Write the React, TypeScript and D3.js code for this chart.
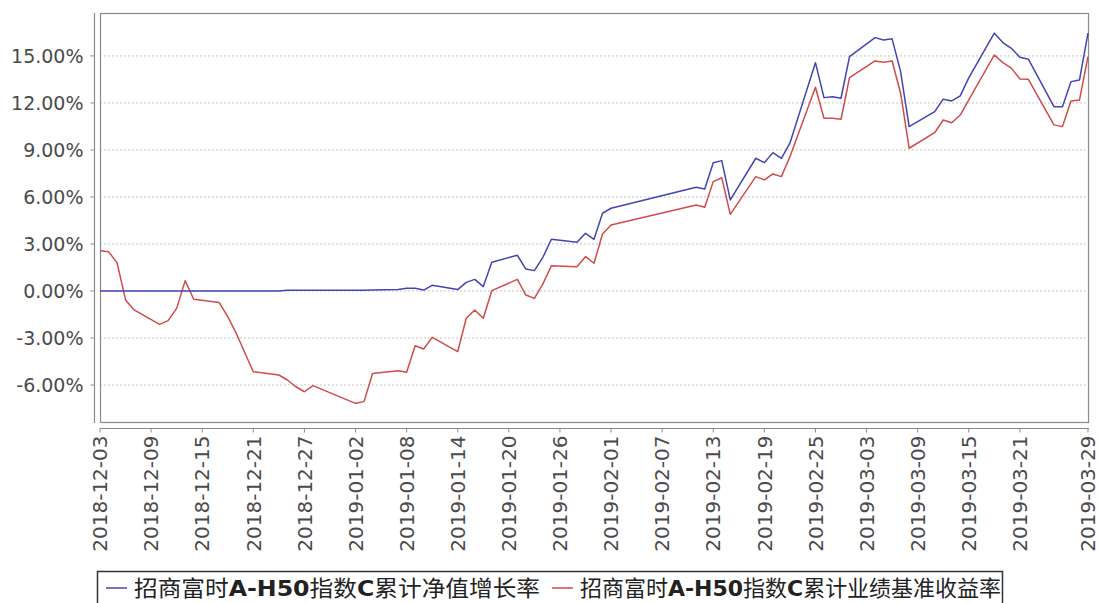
import { useEffect, useRef } from 'react';
import * as d3 from 'd3';

const dates = [
  '2018-12-03', '2018-12-04', '2018-12-05', '2018-12-06', '2018-12-07',
  '2018-12-10', '2018-12-11', '2018-12-12', '2018-12-13', '2018-12-14',
  '2018-12-17', '2018-12-18', '2018-12-19', '2018-12-20', '2018-12-21',
  '2018-12-24', '2018-12-25', '2018-12-26', '2018-12-27', '2018-12-28',
  '2019-01-02', '2019-01-03', '2019-01-04',
  '2019-01-07', '2019-01-08', '2019-01-09', '2019-01-10', '2019-01-11',
  '2019-01-14', '2019-01-15', '2019-01-16', '2019-01-17', '2019-01-18',
  '2019-01-21', '2019-01-22', '2019-01-23', '2019-01-24', '2019-01-25',
  '2019-01-28', '2019-01-29', '2019-01-30', '2019-01-31', '2019-02-01',
  '2019-02-11', '2019-02-12', '2019-02-13', '2019-02-14', '2019-02-15',
  '2019-02-18', '2019-02-19', '2019-02-20', '2019-02-21', '2019-02-22',
  '2019-02-25', '2019-02-26', '2019-02-27', '2019-02-28', '2019-03-01',
  '2019-03-04', '2019-03-05', '2019-03-06', '2019-03-07', '2019-03-08',
  '2019-03-11', '2019-03-12', '2019-03-13', '2019-03-14', '2019-03-15',
  '2019-03-18', '2019-03-19', '2019-03-20', '2019-03-21', '2019-03-22',
  '2019-03-25', '2019-03-26', '2019-03-27', '2019-03-28', '2019-03-29',
];

// 累计净值增长率 (%)
const navGrowth = [
  0.0, 0.0, 0.0, 0.0, 0.0,
  0.0, 0.0, 0.0, 0.0, 0.0,
  0.0, 0.0, 0.0, 0.0, 0.0,
  0.0, 0.05, 0.05, 0.05, 0.05,
  0.05, 0.05, 0.06,
  0.1, 0.17, 0.17, 0.06, 0.36,
  0.09, 0.55, 0.74, 0.28, 1.83,
  2.28, 1.4, 1.3, 2.15, 3.3,
  3.11, 3.68, 3.3, 4.96, 5.28,
  6.62, 6.51, 8.19, 8.32, 5.81,
  8.47, 8.19, 8.83, 8.47, 9.43,
  14.57, 12.34, 12.4, 12.3, 14.96,
  16.17, 16.02, 16.09, 14.0, 10.49,
  11.45, 12.24, 12.13, 12.45, 13.6,
  16.45, 15.85, 15.49, 14.92, 14.79,
  11.76, 11.76, 13.36, 13.47, 16.45,
];

// 累计业绩基准收益率 (%)
const benchmark = [
  2.57, 2.51, 1.81, -0.57, -1.21,
  -2.13, -1.89, -1.11, 0.66, -0.53,
  -0.74, -1.64, -2.7, -3.94, -5.15,
  -5.36, -5.68, -6.11, -6.43, -6.04,
  -7.17, -7.06, -5.26,
  -5.09, -5.19, -3.49, -3.7, -2.96,
  -3.87, -1.74, -1.21, -1.74, 0.02,
  0.74, -0.26, -0.47, 0.45, 1.61,
  1.55, 2.19, 1.77, 3.64, 4.21,
  5.49, 5.34, 6.98, 7.23, 4.89,
  7.3, 7.09, 7.47, 7.3, 8.57,
  13.0, 11.02, 11.02, 10.96, 13.62,
  14.68, 14.6, 14.68, 12.62, 9.11,
  10.1, 10.91, 10.74, 11.23, 12.2,
  15.06, 14.57, 14.22, 13.53, 13.51,
  10.6, 10.49, 12.13, 12.19, 14.96,
];

const xTicks = [
  '2018-12-03', '2018-12-09', '2018-12-15', '2018-12-21', '2018-12-27',
  '2019-01-02', '2019-01-08', '2019-01-14', '2019-01-20', '2019-01-26',
  '2019-02-01', '2019-02-07', '2019-02-13', '2019-02-19', '2019-02-25',
  '2019-03-03', '2019-03-09', '2019-03-15', '2019-03-21', '2019-03-29',
];

const yTicks = [-6, -3, 0, 3, 6, 9, 12, 15];

const seriesNames = ['招商富时A-H50指数C累计净值增长率', '招商富时A-H50指数C累计业绩基准收益率'];
const seriesColors = ['#4444b4', '#d24a4a'];

export default function App() {
  const svgRef = useRef<SVGSVGElement>(null);

  useEffect(() => {
    if (!svgRef.current) return;
    document.body.style.margin = '0';

    const W = 1101;
    const H = 603;
    const left = 100, right = 1088, top = 13, bottom = 422;

    const svg = d3.select(svgRef.current);
    svg.selectAll('*').remove();
    svg.attr('width', W).attr('height', H);

    const parse = d3.utcParse('%Y-%m-%d');
    const x = d3.scaleUtc()
      .domain([parse('2018-12-03') as Date, parse('2019-03-29') as Date])
      .range([left, right]);
    const y = d3.scaleLinear().domain([-8.36, 17.74]).range([bottom, top]);

    svg.append('rect').attr('width', W).attr('height', H).attr('fill', '#fff');

    // grid
    svg.append('g')
      .selectAll('line')
      .data(yTicks)
      .enter()
      .append('line')
      .attr('x1', left)
      .attr('x2', right)
      .attr('y1', d => y(d))
      .attr('y2', d => y(d))
      .attr('stroke', '#c4c4c4')
      .attr('stroke-width', 1)
      .attr('stroke-dasharray', '2 2');

    // plot border
    svg.append('rect')
      .attr('x', left + 0.5)
      .attr('y', top + 0.5)
      .attr('width', right - left)
      .attr('height', bottom - top)
      .attr('fill', 'none')
      .attr('stroke', '#8a8a8a')
      .attr('stroke-width', 1.2);

    // y axis
    const yAxis = svg.append('g').attr('transform', 'translate(94.5,0)');
    yAxis.append('line').attr('y1', top).attr('y2', bottom + 1).attr('stroke', '#8a8a8a').attr('stroke-width', 1.2);
    yAxis.selectAll('.tick')
      .data(yTicks)
      .enter()
      .append('line')
      .attr('x1', -4).attr('x2', 0)
      .attr('y1', d => y(d)).attr('y2', d => y(d))
      .attr('stroke', '#8a8a8a');
    yAxis.selectAll('text')
      .data(yTicks)
      .enter()
      .append('text')
      .attr('x', -11)
      .attr('y', d => y(d))
      .attr('dy', '0.36em')
      .attr('text-anchor', 'end')
      .attr('font-family', 'DejaVu Sans, sans-serif')
      .attr('font-size', 19)
      .attr('fill', '#4a4a4a')
      .text(d => `${d.toFixed(2)}%`);

    // x axis
    const xAxis = svg.append('g').attr('transform', 'translate(0,428.5)');
    xAxis.append('line').attr('x1', left).attr('x2', right + 1).attr('stroke', '#8a8a8a').attr('stroke-width', 1.2);
    xAxis.selectAll('.tick')
      .data(xTicks)
      .enter()
      .append('line')
      .attr('x1', d => x(parse(d) as Date)).attr('x2', d => x(parse(d) as Date))
      .attr('y1', 0).attr('y2', 4)
      .attr('stroke', '#8a8a8a');
    xAxis.selectAll('text')
      .data(xTicks)
      .enter()
      .append('text')
      .attr('transform', d => `translate(${x(parse(d) as Date)},7) rotate(-90)`)
      .attr('dy', '0.36em')
      .attr('text-anchor', 'end')
      .attr('font-family', 'DejaVu Sans, sans-serif')
      .attr('font-size', 20)
      .attr('fill', '#4a4a4a')
      .text(d => d);

    // lines
    const series = [navGrowth, benchmark];
    const line = d3.line<number>()
      .x((_, i) => x(parse(dates[i]) as Date))
      .y(d => y(d));
    // draw benchmark first, growth on top
    [1, 0].forEach(k => {
      svg.append('path')
        .datum(series[k])
        .attr('fill', 'none')
        .attr('stroke', seriesColors[k])
        .attr('stroke-width', 1.5)
        .attr('stroke-linejoin', 'round')
        .attr('d', line);
    });

    // legend
    const legend = svg.append('g');
    legend.append('rect')
      .attr('x', 97.5)
      .attr('y', 571.5)
      .attr('width', 905)
      .attr('height', 40)
      .attr('fill', '#fff')
      .attr('stroke', '#333')
      .attr('stroke-width', 1.5);
    const itemX = [106, 552];
    const textLen = [406, 421];
    seriesNames.forEach((name, i) => {
      legend.append('line')
        .attr('x1', itemX[i]).attr('x2', itemX[i] + 21)
        .attr('y1', 588).attr('y2', 588)
        .attr('stroke', seriesColors[i])
        .attr('stroke-width', 1.5);
      const t = legend.append('text')
        .attr('x', itemX[i] + 28)
        .attr('y', 596)
        .attr('font-family', 'DejaVu Sans, Noto Sans CJK SC, sans-serif')
        .attr('font-size', 22)
        .attr('fill', '#222')
        .attr('textLength', textLen[i])
        .attr('lengthAdjust', 'spacingAndGlyphs');
      // Latin parts look bolder in the reference
      name.split(/([A-Z0-9\-]+)/).filter(s => s.length).forEach(part => {
        t.append('tspan')
          .attr('font-weight', /[A-Z0-9]/.test(part) ? 'bold' : 'normal')
          .attr('font-family', /[A-Z0-9]/.test(part) ? 'DejaVu Sans' : 'Noto Sans CJK SC')
          .text(part);
      });
    });
  }, []);

  return (
    <div style={{ width: 1101, height: 603 }}>
      <svg ref={svgRef} style={{ display: 'block' }} />
    </div>
  );
}
